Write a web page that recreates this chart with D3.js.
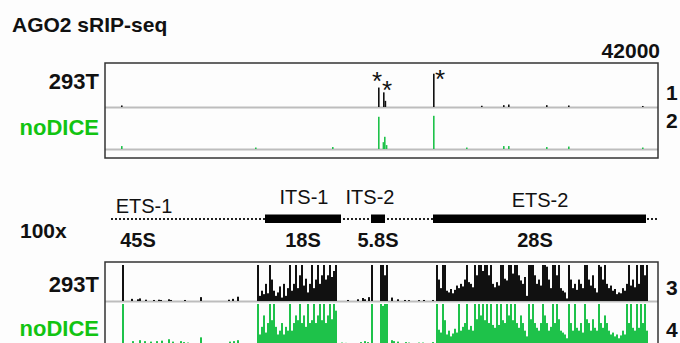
<!DOCTYPE html>
<html><head><meta charset="utf-8">
<script src="https://cdn.jsdelivr.net/npm/d3@7"></script>
<style>
html,body{margin:0;padding:0;background:#fdfdfd;}
svg{display:block;font-family:"Liberation Sans",Arial,sans-serif;}
</style></head>
<body><svg id="c" width="680" height="343"></svg>
<script>
// ---------- DATA ----------
const title = "AGO2 sRIP-seq";
const topMaxLabel = "42000";
const topMax = 42000;
const bottomMax = 420;          // 100x zoom of 42000
const zoomLabel = "100x";
const samples = ["293T", "noDICE"];
const trackNumbers = ["1", "2", "3", "4"];
const genomeLength = 13825;     // bp of the rDNA unit shown
const binSize = 50;

// top panel (full scale) peaks: [position bp, reads]
const top293T = [[400,1500],[6825,19000],[6950,14300],[6990,6000],[8200,32500],[9400,1200],[9950,1800],[10075,2400],[11025,1800],[11575,1500],[13425,1000]];
const topNoDICE = [[400,3000],[3750,1500],[5675,2000],[6825,33000],[6940,7000],[6975,12500],[7020,4000],[8200,34000],[9025,1500],[9950,3000],[10075,3000],[11025,2000],[11575,2500],[13425,1500]];

// bottom panel sparse coverage outside 18S/28S: [position bp, reads]
const low293T = [[425,500],[650,25],[800,20],[850,30],[1000,15],[1200,12],[1325,15],[1375,12],[1575,20],[1625,12],[1975,12],[2375,45],[3075,15],[3175,25],[3300,50],
 [6050,12],[6300,20],[6425,35],[6475,20],[6575,45],[6650,500],[6875,500],[6925,500],[6975,300],[7025,500],[7150,40],[7300,20],[7475,12],[7575,10],[7825,10],[7950,12],[8175,12]];
const lowNoDICE = [[425,500],[675,30],[850,40],[975,30],[1125,25],[1275,30],[1400,35],[1575,50],[1675,25],[1875,30],[1950,20],[2050,15],[2375,70],[3100,25],[3200,30],[3300,40],
 [5900,15],[6000,12],[6375,20],[6475,30],[6550,20],[6650,500],[6875,500],[6925,400],[6975,500],[7025,500],[7150,40],[7200,30],[7300,25],[7500,20],[7575,15],[7825,15],[7925,15],[8175,20]];

// dense coverage, 50 bp bins
const cov18SStart = 3800;
const cov18S_293T = [500,60,120,80,200,90,500,250,120,60,100,170,40,200,60,150,500,120,200,500,150,300,500,180,260,100,200,500,150,250,500,200,300,500,250,300,500,280,350,500];
const cov18S_noDICE = [500,100,180,300,120,220,500,250,500,180,100,140,220,100,180,140,500,140,220,300,250,500,220,300,180,500,220,250,500,220,300,500,250,500,220,300,500,260,500,350];
const cov28SStart = 8275;
const cov28S_293T = [500,250,150,500,500,120,100,140,90,130,180,150,200,170,250,500,220,200,160,500,300,500,500,350,500,500,300,500,200,160,220,180,500,500,260,240,500,500,320,500,500,300,240,200,280,60,500,500,500,300,200,250,180,500,500,400,250,150,500,500,300,500,150,120,100,30,500,250,150,200,130,250,200,150,500,500,250,180,300,150,100,500,400,250,500,200,150,180,120,140,80,100,90,150,120,200,500,180,250,160,500,200,500,500,300,500];
const cov28S_noDICE = [500,150,120,500,250,100,140,80,110,160,120,500,140,180,220,500,150,190,140,500,260,500,300,500,250,500,220,500,200,170,500,200,500,250,220,500,300,500,250,500,220,170,300,220,140,80,500,260,500,220,170,140,220,500,300,220,140,180,500,220,500,260,140,120,100,60,500,220,140,500,170,140,220,120,500,260,220,140,260,170,140,500,220,170,300,220,140,100,120,80,100,60,90,140,100,500,220,500,170,140,500,170,500,220,500,140];

// gene model
const unitStart = 150, unitEnd = 13825;
const matureRNAs = [{name:"18S",start:4000,end:5900,mid:4950},{name:"5.8S",start:6650,end:7000,mid:6825},{name:"28S",start:8200,end:13525,mid:10750},{name:"45S",start:null,end:null,mid:825}];
const spacers = [{name:"ETS-1",mid:975},{name:"ITS-1",mid:4975},{name:"ITS-2",mid:6625},{name:"ETS-2",mid:10875}];
const starred = [6825, 6950, 8200];

// ---------- DRAWING ----------
const svg = d3.select("#c");
const black = "#111", green = "#1ec24a", greenText = "#12c412";
const x = d3.scaleLinear().domain([0, genomeLength]).range([105, 658]);

svg.append("text").attr("x",12).attr("y",32).attr("font-size",21).attr("font-weight","bold").attr("fill","#111").text(title);
svg.append("text").attr("x",660).attr("y",58).attr("text-anchor","end").attr("font-size",21).attr("font-weight","bold").attr("fill","#111").text(topMaxLabel);

function drawTrack(g, base, top, max, bars, color, w) {
  const y = d3.scaleLinear().domain([0, max]).range([base, top]).clamp(true);
  g.append("line").attr("x1",105).attr("x2",658).attr("y1",base+0.5).attr("y2",base+0.5).attr("stroke","#bdbdbd").attr("stroke-width",1.8);
  g.selectAll(null).data(bars).enter().append("rect")
    .attr("x", d => x(d[0])).attr("width", x(w) - x(0))
    .attr("y", d => y(d[1])).attr("height", d => base - y(d[1]))
    .attr("fill", color);
  return y;
}
function dense(start, arr) { return arr.map((v,i) => [start + i*binSize, v]); }

// top panel
const gTop = svg.append("g");
drawTrack(gTop, 107, 64, topMax, top293T, black, 40);
drawTrack(gTop, 149, 108, topMax, topNoDICE, green, 40);
gTop.append("rect").attr("x",105).attr("y",63).attr("width",553).attr("height",95).attr("fill","none").attr("stroke","#333").attr("stroke-width",1.5);

// asterisks
const astPos = [[x(starred[0])-1, 90],[x(starred[1])+4, 99],[x(starred[2])+7, 88]];
svg.selectAll(null).data(astPos).enter().append("text").attr("x",d=>d[0]).attr("y",d=>d[1]).attr("text-anchor","middle").attr("font-size",26).attr("fill","#111").text("*");

// labels
function sampleLabel(yb, txt, col) {
  svg.append("text").attr("x",99).attr("y",yb).attr("text-anchor","end").attr("font-size",22).attr("font-weight","bold").attr("fill",col).text(txt);
}
sampleLabel(89, samples[0], "#111");
sampleLabel(135, samples[1], greenText);
sampleLabel(292, samples[0], "#111");
sampleLabel(336, samples[1], greenText);
[[100,trackNumbers[0]],[128,trackNumbers[1]],[295,trackNumbers[2]],[337,trackNumbers[3]]].forEach(d=>{
  svg.append("text").attr("x",666).attr("y",d[0]).attr("font-size",21).attr("font-weight","bold").attr("fill","#111").text(d[1]);
});
svg.append("text").attr("x",20).attr("y",238).attr("font-size",21).attr("font-weight","bold").attr("fill","#111").text(zoomLabel);

// gene model
const gm = svg.append("g");
gm.append("line").attr("x1",x(unitStart)).attr("x2",x(unitEnd)).attr("y1",219).attr("y2",219).attr("stroke","#222").attr("stroke-width",2).attr("stroke-dasharray","2,2");
gm.selectAll(null).data(matureRNAs.filter(d=>d.start!==null)).enter().append("rect")
  .attr("x",d=>x(d.start)).attr("width",d=>x(d.end)-x(d.start)).attr("y",214.5).attr("height",8.5).attr("fill","#000");
const spacerY = {"ETS-1":213,"ITS-1":204,"ITS-2":204,"ETS-2":207};
gm.selectAll(null).data(spacers).enter().append("text").attr("x",d=>x(d.mid)).attr("y",d=>spacerY[d.name]).attr("text-anchor","middle").attr("font-size",20).attr("fill","#111").text(d=>d.name);
gm.selectAll(null).data(matureRNAs).enter().append("text").attr("x",d=>x(d.mid)).attr("y",246.5).attr("text-anchor","middle").attr("font-size",20).attr("font-weight","bold").attr("fill","#111").text(d=>d.name);

// bottom panel
const gBot = svg.append("g");
const bars3 = low293T.concat(dense(cov18SStart, cov18S_293T), dense(cov28SStart, cov28S_293T));
const bars4 = lowNoDICE.concat(dense(cov18SStart, cov18S_noDICE), dense(cov28SStart, cov28S_noDICE));
drawTrack(gBot, 301, 265, bottomMax, bars3, black, binSize);
drawTrack(gBot, 344, 304, bottomMax, bars4, green, binSize);
gBot.append("rect").attr("x",105).attr("y",262).attr("width",553).attr("height",90).attr("fill","none").attr("stroke","#333").attr("stroke-width",1.5);
</script></body></html>
